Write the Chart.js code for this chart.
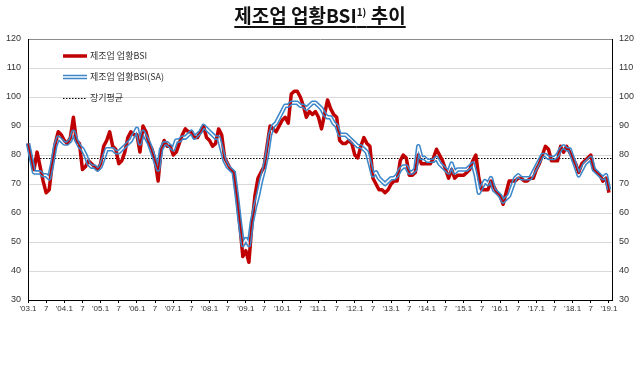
<!DOCTYPE html>
<html>
<head>
<meta charset="utf-8">
<script src="https://cdn.jsdelivr.net/npm/chart.js@4.4.0/dist/chart.umd.min.js"></script>
<style>
    body { margin: 0; background: #fff; }
    #wrap { position: relative; width: 640px; height: 369px; }
    #title {
        position: absolute; left: 0; top: 3px; width: 640px; text-align: center;
        font: bold 19px 'Noto Sans CJK KR', sans-serif; line-height: 24px; color: #111;
    }
    #title span { text-decoration: underline; text-decoration-thickness: 1.5px; text-underline-offset: 3px; }
    #title sup { font-size: 10px; line-height: 0; }
</style>
</head>
<body>
<div id="wrap">
    <canvas id="chart" width="640" height="369"></canvas>
    <div id="title"><span>제조업 업황BSI<sup>1)</sup> 추이</span></div>
</div>
<script>
// monthly, 2003.1 ~ 2019.1
var bsi = [
    84, 79, 75, 81, 76, 71, 67, 68, 77, 84, 88, 87,
    85, 84, 86, 93, 85, 84, 75, 76, 78, 77, 76, 75,
    77, 83, 85, 88, 83, 82, 77, 78, 81, 86, 88, 87,
    87, 81, 90, 88, 84, 82, 78, 71, 82, 85, 83, 83,
    80, 81, 84, 87, 89, 88, 88, 86, 86, 88, 90, 86,
    85, 83, 84, 89, 87, 79, 77, 75, 74, 66, 56, 45,
    47, 43, 56, 66, 72, 74, 76, 83, 90, 89, 88, 90,
    92, 93, 91, 101, 102, 102, 100, 97, 93, 95, 94, 95,
    93, 89, 94, 99, 96, 94, 93, 85, 84, 84, 85, 84,
    80, 79, 83, 86, 84, 83, 72, 70, 68, 68, 67, 68,
    70, 71, 71, 78, 80, 79, 73, 73, 74, 80, 77, 77,
    77, 77, 79, 82, 80, 78, 75, 72, 75, 72, 73, 73,
    73, 74, 75, 78, 80, 72, 68, 68, 68, 71, 69, 67,
    66, 63, 67, 71, 71, 71, 72, 72, 71, 71, 72, 72,
    75, 77, 80, 83, 82, 78, 78, 78, 83, 81, 83, 81,
    79, 77, 74, 77, 78, 79, 80, 75, 74, 73, 71, 72,
    67
];
var bsiSA = [
    84, 79, 74, 74, 74, 73, 73, 72, 77, 83, 86, 85,
    84, 84, 85, 88, 85, 83, 82, 80, 77, 76, 76, 75,
    76, 79, 82, 82, 82, 81, 81, 82, 83, 84, 85, 87,
    89, 84, 88, 86, 84, 81, 78, 75, 82, 84, 84, 83,
    82, 85, 85, 86, 86, 87, 88, 86, 87, 88, 90, 89,
    88, 87, 86, 86, 82, 78, 76, 75, 74, 66, 57, 49,
    51, 49, 57, 62, 66, 71, 75, 80, 87, 90, 91, 93,
    95, 97, 97, 98, 98, 98, 97, 97, 96, 97, 98, 98,
    97, 96, 94, 93, 93, 91, 90, 87, 87, 87, 86, 85,
    84, 83, 83, 82, 81, 77, 73, 74, 72, 71, 70, 71,
    72, 72, 73, 75, 76, 76, 74, 74, 75, 83, 79, 79,
    78, 78, 78, 79, 77, 76, 75, 74, 77, 74, 75, 75,
    75, 75, 76, 77, 73, 67, 69, 71, 70, 72, 68, 67,
    66, 64, 65, 66, 69, 72, 73, 72, 72, 72, 72, 74,
    76, 78, 80, 80, 79, 79, 79, 80, 82, 83, 82, 82,
    79, 76, 73, 75, 77, 78, 79, 75, 74, 73, 72, 73,
    68
];
var longTermAvg = 79;
var tickLabels = ["'03.1", "7", "'04.1", "7", "'05.1", "7", "'06.1", "7", "'07.1", "7", "'08.1", "7",
    "'09.1", "7", "'10.1", "7", "'11.1", "7", "'12.1", "7", "'13.1", "7", "'14.1", "7",
    "'15.1", "7", "'16.1", "7", "'17.1", "7", "'18.1", "7", "'19.1"];
var legendNames = ['제조업 업황BSI', '제조업 업황BSI(SA)', '장기평균'];

var months = [];
for (var y = 2003; y <= 2019; y++) {
    for (var m = 1; m <= 12; m++) {
        if (y == 2019 && m > 1) break;
        months.push(y + '.' + m);
    }
}
months.push(''); // a little room after the last month

var RED = '#c00000';
var BLUE = '#3b87c9';

// SA series: double line with a see-through middle
var doubleLine = {
    id: 'doubleLine',
    beforeDatasetDraw: function (chart, args) {
        if (args.index != 1) return;
        var pts = args.meta.data;
        var off = document.createElement('canvas');
        off.width = chart.canvas.width;
        off.height = chart.canvas.height;
        var o = off.getContext('2d');
        o.scale(chart.currentDevicePixelRatio, chart.currentDevicePixelRatio);
        o.beginPath();
        pts.forEach(function (p, i) {
            if (i == 0) o.moveTo(p.x, p.y); else o.lineTo(p.x, p.y);
        });
        o.lineJoin = 'round';
        o.strokeStyle = BLUE;
        o.lineWidth = 4.6;
        o.stroke();
        o.globalCompositeOperation = 'destination-out';
        o.lineWidth = 1.5;
        o.stroke();
        var ctx = chart.ctx;
        ctx.save();
        ctx.setTransform(1, 0, 0, 1, 0, 0);
        ctx.drawImage(off, 0, 0);
        ctx.restore();
        return false;
    }
};

// dotted long-term average + legend inside the plot
var extras = {
    id: 'extras',
    beforeDatasetsDraw: function (chart) {
        var ctx = chart.ctx, area = chart.chartArea;
        var yy = Math.round(chart.scales.y.getPixelForValue(longTermAvg)) + 0.5;
        ctx.save();
        ctx.strokeStyle = '#000';
        ctx.lineWidth = 1;
        ctx.setLineDash([1.5, 1.5]);
        ctx.beginPath();
        ctx.moveTo(area.left, yy);
        ctx.lineTo(area.right, yy);
        ctx.stroke();
        ctx.restore();
    },
    afterDraw: function (chart) {
        var ctx = chart.ctx;
        var x0 = 63, x1 = 87, rows = [56, 77, 98];
        ctx.save();
        // BSI
        ctx.strokeStyle = RED;
        ctx.lineWidth = 3.5;
        ctx.beginPath(); ctx.moveTo(x0, rows[0]); ctx.lineTo(x1, rows[0]); ctx.stroke();
        // SA
        ctx.strokeStyle = BLUE;
        ctx.lineWidth = 1.5;
        ctx.beginPath(); ctx.moveTo(x0, rows[1] - 1.5); ctx.lineTo(x1, rows[1] - 1.5); ctx.stroke();
        ctx.beginPath(); ctx.moveTo(x0, rows[1] + 1.5); ctx.lineTo(x1, rows[1] + 1.5); ctx.stroke();
        // average
        ctx.strokeStyle = '#000';
        ctx.lineWidth = 1;
        ctx.setLineDash([1.5, 1.5]);
        ctx.beginPath(); ctx.moveTo(x0, rows[2] + 0.5); ctx.lineTo(x1, rows[2] + 0.5); ctx.stroke();
        ctx.setLineDash([]);
        ctx.fillStyle = '#333';
        ctx.font = "9px 'Noto Sans CJK KR', sans-serif";
        ctx.textBaseline = 'middle';
        for (var i = 0; i < legendNames.length; i++) {
            ctx.fillText(legendNames[i], 90, rows[i]);
        }
        ctx.restore();
    }
};

var tickFont = { size: 9, family: "'Liberation Sans', Arial, sans-serif" };

new Chart(document.getElementById('chart').getContext('2d'), {
    type: 'line',
    data: {
        labels: months,
        datasets: [{
            label: legendNames[0],
            data: bsi,
            borderColor: RED,
            borderWidth: 3.5,
            borderJoinStyle: 'round',
            pointRadius: 0,
            tension: 0,
            order: 1
        }, {
            label: legendNames[1],
            data: bsiSA,
            borderColor: BLUE,
            borderWidth: 4.6,
            pointRadius: 0,
            tension: 0,
            order: 0
        }]
    },
    options: {
        responsive: false,
        animation: false,
        layout: { padding: { top: 39, bottom: 49, left: 0, right: 0 } },
        plugins: {
            legend: { display: false },
            tooltip: { enabled: false }
        },
        scales: {
            x: {
                ticks: {
                    autoSkip: false,
                    maxRotation: 0,
                    padding: 1,
                    color: '#333',
                    font: { size: 8, family: "'Liberation Sans', Arial, sans-serif" },
                    callback: function (value) { return tickLabels[value / 6]; }
                },
                grid: { drawOnChartArea: false, tickLength: 3, color: '#000' },
                border: { color: '#000' },
                afterBuildTicks: function (axis) {
                    axis.ticks = axis.ticks.filter(function (t) { return t.value % 6 == 0 && t.value <= 192; });
                },
                afterFit: function (axis) { axis.height = 20; }
            },
            y: {
                min: 30,
                max: 120,
                ticks: { stepSize: 10, padding: 7, color: '#333', font: tickFont },
                grid: {
                    drawTicks: false,
                    color: function (c) { return c.tick && c.tick.value == 120 ? '#8c8c8c' : '#d9d9d9'; }
                },
                border: { color: '#000' },
                afterFit: function (axis) { axis.width = 28; }
            },
            y2: {
                position: 'right',
                min: 30,
                max: 120,
                ticks: { stepSize: 10, padding: 7, color: '#333', font: tickFont },
                grid: { drawOnChartArea: false, drawTicks: false },
                border: { color: '#000' },
                afterFit: function (axis) { axis.width = 28; }
            }
        }
    },
    plugins: [doubleLine, extras]
});
</script>
</body>
</html>
